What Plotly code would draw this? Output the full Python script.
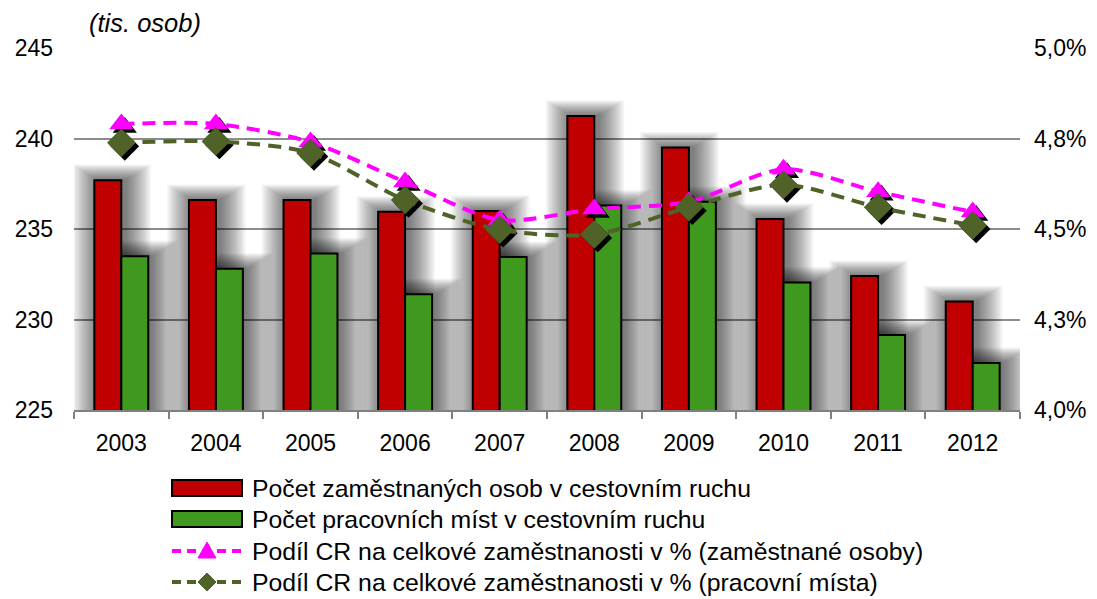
import plotly.graph_objects as go

years = [2003, 2004, 2005, 2006, 2007, 2008, 2009, 2010, 2011, 2012]
year_labels = ["2003", "2004", "2005", "2006", "2007", "2008", "2009", "2010", "2011", "2012"]
zamestnane_osoby = [237.7, 236.6, 236.6, 235.95, 236.0, 241.25, 239.5, 235.55, 232.4, 231.0]
pracovni_mista = [233.5, 232.8, 233.65, 231.4, 233.45, 236.3, 236.5, 232.05, 229.15, 227.6]
podil_osoby = [4.79, 4.79, 4.74, 4.63, 4.525, 4.555, 4.575, 4.665, 4.603, 4.547]
podil_mista = [4.738, 4.742, 4.71, 4.58, 4.498, 4.485, 4.56, 4.622, 4.56, 4.51]

left_ticks = [225, 230, 235, 240, 245]
right_ticks = [4.0, 4.25, 4.5, 4.75, 5.0]
right_labels = ["4,0%", "4,3%", "4,5%", "4,8%", "5,0%"]

names = [
    "Počet zaměstnaných osob v cestovním ruchu",
    "Počet pracovních míst v cestovním ruchu",
    "Podíl CR na celkové zaměstnanosti v % (zaměstnané osoby)",
    "Podíl CR na celkové zaměstnanosti v % (pracovní místa)",
]

FONT = "Liberation Sans, Arial, sans-serif"
RED, GREEN, MAGENTA, OLIVE = "#C00000", "#40991F", "#FF00FF", "#4F6228"

# page body has an 8px margin: work in window pixels and convert
OFF = 8
W, H = 1097, 599
PL, PR, PT, PB = 74, 1020, 48, 410          # desired plot box in window px
L, T = PL - OFF, PT - OFF
PW, PH = PR - PL, PB - PT
R, B = W - L - PW, H - T - PH
XR = [2002.5, 2012.5]
YR = [225, 245]
Y2R = [4.0, 5.0]
px_x = (XR[1] - XR[0]) / PW
px_y = (YR[1] - YR[0]) / PH
px_y2 = (Y2R[1] - Y2R[0]) / PH

BW = 0.285

fig = go.Figure()

# soft glow behind bars (many translucent layers)
for k in range(1, 21):
    grow = 1.3 * k
    for vals, off in ((zamestnane_osoby, -BW), (pracovni_mista, 0.0)):
        fig.add_trace(go.Bar(
            x=years, y=[v + 0.6 * grow * px_y for v in vals], base=0,
            width=BW + 2 * grow * px_x, offset=off - grow * px_x + 4 * px_x,
            marker=dict(color="rgba(0,0,0,0.033)", line=dict(width=0)),
            showlegend=False, hoverinfo="skip",
        ))

fig.add_trace(go.Bar(
    x=years, y=zamestnane_osoby, name=names[0], base=0, width=BW, offset=-BW,
    marker=dict(color=RED, line=dict(color="black", width=2)), showlegend=False,
))
fig.add_trace(go.Bar(
    x=years, y=pracovni_mista, name=names[1], base=0, width=BW, offset=0,
    marker=dict(color=GREEN, line=dict(color="black", width=2)), showlegend=False,
))

sx, sy = 3.5 * px_x, 3.5 * px_y2
fig.add_trace(go.Scatter(
    x=[v + sx for v in years], y=[v - sy for v in podil_osoby], yaxis="y2", mode="markers",
    marker=dict(symbol="triangle-up", size=21, color="black"), showlegend=False, hoverinfo="skip",
))
fig.add_trace(go.Scatter(
    x=years, y=podil_osoby, name=names[2], yaxis="y2", mode="lines+markers",
    line=dict(color=MAGENTA, width=4, dash="13px,8px", shape="spline", smoothing=0.8),
    marker=dict(symbol="triangle-up", size=21, color=MAGENTA), showlegend=False,
))
fig.add_trace(go.Scatter(
    x=[v + sx for v in years], y=[v - sy for v in podil_mista], yaxis="y2", mode="markers",
    marker=dict(symbol="diamond", size=22, color="black"), showlegend=False, hoverinfo="skip",
))
fig.add_trace(go.Scatter(
    x=years, y=podil_mista, name=names[3], yaxis="y2", mode="lines+markers",
    line=dict(color=OLIVE, width=4, dash="13px,8px", shape="spline", smoothing=0.8),
    marker=dict(symbol="diamond", size=22, color=OLIVE), showlegend=False,
))

# ---- manual legend (window px -> paper coords) ----
def pxx(x):
    return (x - PL) / PW

def pxy(y):
    return (PB - y) / PH

shapes = []
annotations = []
rows = [488, 519, 551, 582]
sym_x0, sym_x1, text_x = 172, 242, 250
for i, cy in enumerate(rows):
    if i < 2:
        shapes.append(dict(
            type="rect", xref="paper", yref="paper",
            x0=pxx(sym_x0), x1=pxx(sym_x1), y0=pxy(cy + 8), y1=pxy(cy - 8),
            fillcolor=[RED, GREEN][i], line=dict(color="black", width=2),
        ))
    else:
        col = [MAGENTA, OLIVE][i - 2]
        shapes.append(dict(
            type="line", xref="paper", yref="paper",
            x0=pxx(sym_x0), x1=pxx(sym_x1), y0=pxy(cy), y1=pxy(cy),
            line=dict(color=col, width=4, dash="9px,6px"),
        ))
        mx = (sym_x0 + sym_x1) / 2
        if i == 2:
            path = "M {},{} L {},{} L {},{} Z".format(
                pxx(mx - 9), pxy(cy + 7), pxx(mx + 9), pxy(cy + 7), pxx(mx), pxy(cy - 9))
        else:
            path = "M {},{} L {},{} L {},{} L {},{} Z".format(
                pxx(mx - 9), pxy(cy), pxx(mx), pxy(cy - 9), pxx(mx + 9), pxy(cy), pxx(mx), pxy(cy + 9))
        shapes.append(dict(type="path", xref="paper", yref="paper", path=path,
                           fillcolor=col, line=dict(color=col, width=1)))
    annotations.append(dict(
        text=names[i], xref="paper", yref="paper", x=pxx(text_x), y=pxy(cy),
        xanchor="left", yanchor="middle", showarrow=False,
        font=dict(size=24.8, family=FONT, color="black"),
    ))

annotations.append(dict(
    text="<i>(tis. osob)</i>", xref="paper", yref="paper",
    x=pxx(87), y=pxy(23), xanchor="left", yanchor="middle",
    showarrow=False, font=dict(size=25.5, family=FONT),
))

fig.update_layout(
    width=W, height=H,
    margin=dict(l=L, r=R, t=T, b=B, autoexpand=False),
    paper_bgcolor="white", plot_bgcolor="white",
    font=dict(family=FONT, size=23, color="black"),
    barmode="overlay",
    showlegend=False,
    xaxis=dict(
        range=XR, tickvals=years, ticktext=year_labels, automargin=False,
        showline=True, linecolor="#808080", linewidth=1.5,
        ticks="", showgrid=False, zeroline=False,
        minor=dict(ticks="outside", tick0=2002.5, dtick=1, ticklen=7,
                   tickcolor="#808080", tickwidth=1.5, showgrid=False),
        ticklabelstandoff=12, tickfont=dict(size=23),
    ),
    yaxis=dict(
        range=YR, tickvals=left_ticks, showgrid=True, automargin=False,
        gridcolor="#8c8c8c", gridwidth=1.5, zeroline=False,
        ticklabelstandoff=20, tickfont=dict(size=23),
    ),
    yaxis2=dict(
        overlaying="y", side="right", range=Y2R, automargin=False,
        tickvals=right_ticks, ticktext=right_labels, showgrid=False,
        zeroline=False, ticklabelstandoff=13, tickfont=dict(size=23),
    ),
    shapes=shapes,
    annotations=annotations,
)

fig.write_html("out.html")
